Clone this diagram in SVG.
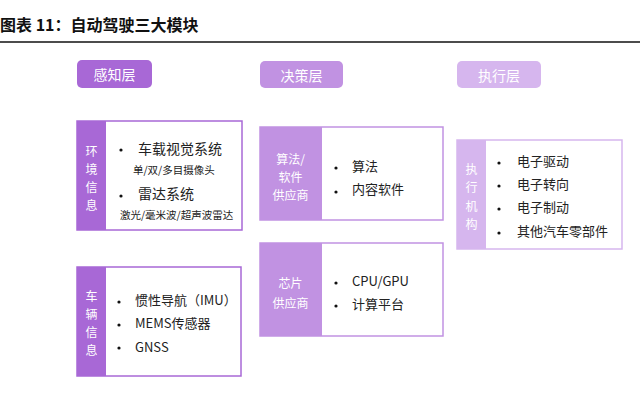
<svg xmlns="http://www.w3.org/2000/svg" width="640" height="394" viewBox="0 0 640 394">
<style>
text{font-family:"Noto Sans CJK SC","Noto Sans",sans-serif;}
.title{font-size:16px;font-weight:bold;fill:#111;}
.hd{font-size:14px;fill:#fff;text-anchor:middle;dominant-baseline:central;}
.side{font-size:12px;fill:#fff;text-anchor:middle;dominant-baseline:central;}
.it{font-size:13px;fill:#222;dominant-baseline:central;}
.big{font-size:14px;fill:#222;dominant-baseline:central;}
.sm{font-size:10.5px;fill:#222;dominant-baseline:central;}
.bul{fill:#111;}
.c1{fill:#a868d6;}
.c2{fill:#c192e2;}
.c3{fill:#d6b6ee;}
.b1{fill:#fff;stroke:#a868d6;stroke-width:1.5;}
.b2{fill:#fff;stroke:#c192e2;stroke-width:1.5;}
.b3{fill:#fff;stroke:#d6b6ee;stroke-width:1.5;}
</style>
<rect width="640" height="394" fill="#fff"/>
<text class="title" x="0" y="31">图表 11：自动驾驶三大模块</text>
<line x1="0" y1="42" x2="640" y2="42" stroke="#111" stroke-width="1.5"/>

<g id="hdr-perception">
<rect class="c1" x="77" y="60" width="75" height="28" rx="5"/>
<text class="hd" x="114.5" y="74">感知层</text>
</g>
<g id="hdr-decision">
<rect class="c2" x="260" y="61" width="83" height="27" rx="5"/>
<text class="hd" x="301.5" y="74.5">决策层</text>
</g>
<g id="hdr-execution">
<rect class="c3" x="457" y="61" width="84" height="27" rx="5"/>
<text class="hd" x="499" y="74.5">执行层</text>
</g>

<g id="env-info">
<rect class="b1" x="77" y="121" width="165" height="109"/>
<rect class="c1" x="77" y="121" width="29" height="109"/>
<text class="side" x="91.5" y="150">环</text>
<text class="side" x="91.5" y="168">境</text>
<text class="side" x="91.5" y="186">信</text>
<text class="side" x="91.5" y="204">息</text>
<circle class="bul" cx="121" cy="150" r="1.6"/>
<text class="big" x="138" y="148">车载视觉系统</text>
<text class="sm" x="133" y="169">单/双/多目摄像头</text>
<circle class="bul" cx="121" cy="196" r="1.6"/>
<text class="big" x="138" y="193">雷达系统</text>
<text class="sm" x="120" y="214">激光/毫米波/超声波雷达</text>
</g>

<g id="vehicle-info">
<rect class="b1" x="77" y="267" width="164" height="109"/>
<rect class="c1" x="77" y="267" width="29" height="109"/>
<text class="side" x="91.5" y="295">车</text>
<text class="side" x="91.5" y="313">辆</text>
<text class="side" x="91.5" y="331">信</text>
<text class="side" x="91.5" y="349">息</text>
<circle class="bul" cx="119" cy="302" r="1.6"/>
<text class="it" x="135" y="299">惯性导航（IMU）</text>
<circle class="bul" cx="119" cy="325" r="1.6"/>
<text class="it" x="135" y="322">MEMS传感器</text>
<circle class="bul" cx="119" cy="348" r="1.6"/>
<text class="it" x="135" y="346">GNSS</text>
</g>

<g id="algo-supplier">
<rect class="b2" x="260" y="127" width="183" height="93"/>
<rect class="c2" x="260" y="127" width="62" height="93"/>
<text class="side" x="290.5" y="158">算法/</text>
<text class="side" x="290.5" y="176">软件</text>
<text class="side" x="290.5" y="194">供应商</text>
<circle class="bul" cx="336" cy="168" r="1.6"/>
<text class="it" x="352" y="165">算法</text>
<circle class="bul" cx="336" cy="192" r="1.6"/>
<text class="it" x="352" y="188">内容软件</text>
</g>

<g id="chip-supplier">
<rect class="b2" x="260" y="243" width="183" height="93"/>
<rect class="c2" x="260" y="243" width="62" height="93"/>
<text class="side" x="290.5" y="282">芯片</text>
<text class="side" x="290.5" y="302">供应商</text>
<circle class="bul" cx="336" cy="283" r="1.6"/>
<text class="it" x="352" y="280">CPU/GPU</text>
<circle class="bul" cx="336" cy="306" r="1.6"/>
<text class="it" x="352" y="303">计算平台</text>
</g>

<g id="actuators">
<rect class="b3" x="457" y="140" width="165" height="109"/>
<rect class="c3" x="457" y="140" width="29" height="109"/>
<text class="side" x="471.5" y="168">执</text>
<text class="side" x="471.5" y="186">行</text>
<text class="side" x="471.5" y="205">机</text>
<text class="side" x="471.5" y="223">构</text>
<circle class="bul" cx="499" cy="163" r="1.6"/>
<text class="it" x="517" y="160">电子驱动</text>
<circle class="bul" cx="499" cy="186" r="1.6"/>
<text class="it" x="517" y="183">电子转向</text>
<circle class="bul" cx="499" cy="209" r="1.6"/>
<text class="it" x="517" y="206">电子制动</text>
<circle class="bul" cx="499" cy="233" r="1.6"/>
<text class="it" x="517" y="230">其他汽车零部件</text>
</g>
</svg>
